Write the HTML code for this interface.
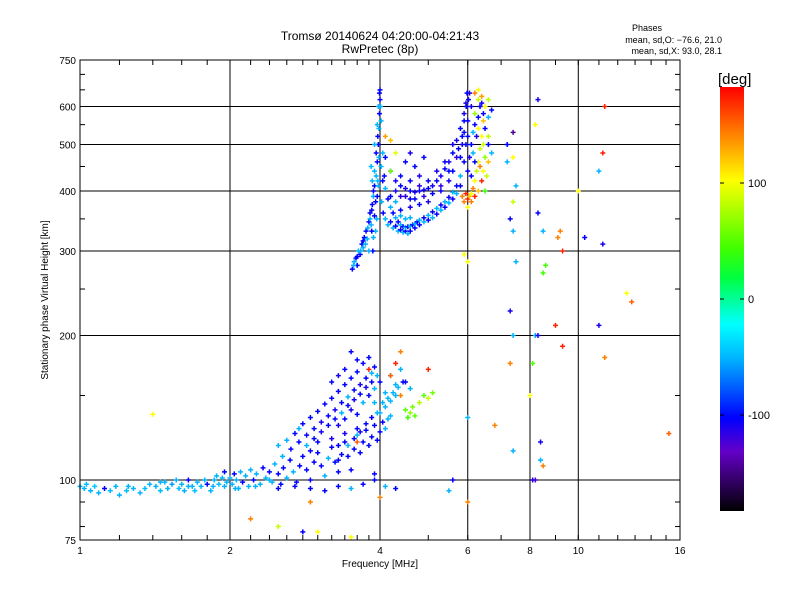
<!DOCTYPE html>
<html><head><meta charset="utf-8"><style>
body{margin:0;background:#fff;}
svg text{font-family:"Liberation Sans",sans-serif;fill:#000;}
</style></head><body>
<svg id="chart" width="800" height="600" viewBox="0 0 800 600">
<defs><linearGradient id="cb" x1="0" y1="1" x2="0" y2="0">
<stop offset="0" stop-color="#000"/><stop offset="0.14" stop-color="#6400c8"/><stop offset="0.22" stop-color="#0000ff"/><stop offset="0.36" stop-color="#00b4ff"/><stop offset="0.44" stop-color="#00ffff"/><stop offset="0.55" stop-color="#00ff40"/><stop offset="0.62" stop-color="#40ff00"/><stop offset="0.78" stop-color="#ffff00"/><stop offset="0.89" stop-color="#ff8000"/><stop offset="1" stop-color="#ff0000"/>
</linearGradient></defs>
<text x="380" y="40" font-size="12" text-anchor="middle">Tromsø 20140624 04:20:00-04:21:43</text>
<text x="380" y="53" font-size="12" text-anchor="middle">RwPretec (8p)</text>
<text x="647" y="31" font-size="9" text-anchor="middle">Phases</text>
<text x="722" y="43" font-size="9" text-anchor="end">mean, sd,O: −76.6, 21.0</text>
<text x="722" y="54" font-size="9" text-anchor="end">mean, sd,X:  93.0, 28.1</text>
<g id="grid"></g>
<g id="marks"></g>
<rect x="80" y="60" width="600" height="480" fill="none" stroke="#000" stroke-width="1"/>
<g id="ticks"></g>
<text x="380" y="567" font-size="10" text-anchor="middle">Frequency [MHz]</text>
<text transform="translate(48,300) rotate(-90)" font-size="10" text-anchor="middle">Stationary phase Virtual Height [km]</text>
<rect x="720" y="87" width="24" height="424" fill="url(#cb)"/>
<text x="718" y="84" font-size="15">[deg]</text>
<g id="cbticks"></g>
</svg>
<script>
const xTickVals=[1,2,4,6,8,10,16];
const xTickLabels=["1","2","4","6","8","10","16"];
const xGrid=[2,4,6,8,10];
const yTickVals=[75,100,200,300,400,500,600,750];
const yTickLabels=["75","100","200","300","400","500","600","750"];
const yGrid=[100,200,300,400,500,600];
const cbTickVals=[100,0,-100];
const cbTickLabels=["100","0","-100"];
const lowBand="1.00 97 -60;1.02 96 -60;1.03 98 -55;1.05 95 -60;1.07 97 -50;1.09 94 -60;1.12 96 -100;1.15 95 -55;1.18 97 -60;1.2 93 -60;1.24 95 -55;1.28 96 -60;1.32 94 -60;1.35 96 -55;1.38 98 -60;1.42 97 -60;1.45 95 -55;1.48 99 -60;1.5 96 -60;1.53 98 -65;1.56 100 -60;1.58 96 -55;1.6 98 -60;1.62 95 -60;1.65 100 -100;1.68 97 -60;1.7 95 -55;1.72 99 -60;1.75 97 -60;1.78 100 -60;1.8 98 -100;1.83 95 -60;1.86 100 -60;1.88 102 -60;1.9 98 -55;1.93 101 -60;1.95 104 -100;1.97 99 -60;2.0 101 -60;2.02 98 -60;2.04 103 -100;2.06 100 -60;2.08 96 -60;2.1 104 -60;2.12 99 -100;2.15 102 -60;2.18 97 -60;2.2 105 -60;2.23 100 -100;2.26 103 -60;2.3 98 -60;2.33 106 -100;2.36 101 -60;2.4 104 -100;2.43 99 -60;2.46 108 -60;2.5 103 -100;2.53 98 -100;2.56 106 -100;2.6 101 -60;2.64 110 -100;2.68 104 -60;2.72 99 -100;2.76 107 -100;2.8 112 -100;2.85 105 -100;2.9 100 -100;2.95 109 -100;3.0 114 -100;3.05 107 -100;3.1 102 -60;3.15 111 -60;3.2 117 -100;3.25 109 -100;3.3 104 -100;3.35 113 -100;3.4 120 -100;3.45 112 -100;3.5 105 -100;3.55 116 -100;3.6 124 -60;3.65 114 -100;3.7 120 -100;3.75 127 -100;3.8 118 -100;3.85 123 -100;3.9 130 -100;3.95 121 -100;4.0 126 -100;4.05 132 -100;4.1 128 -60;4.15 134 -60;4.2 136 -60";
const upperLow="2.5 118 -60;2.6 121 -60;2.7 125 -100;2.75 128 -60;2.8 131 -100;2.85 124 -100;2.9 135 -100;2.95 128 -100;3.0 139 -100;3.05 132 -110;3.1 144 -100;3.15 136 -100;3.2 148 -100;3.25 140 -110;3.3 153 -100;3.35 145 -100;3.4 158 -100;3.45 149 -60;3.5 163 -100;3.55 154 -100;3.6 168 -100;3.65 158 -110;3.7 175 -100;3.75 163 -100;3.8 180 -100;3.85 167 -60;3.9 172 -100;3.5 185 -100;3.6 178 -100;3.3 130 -110;3.4 134 -100;3.5 140 -110;3.6 137 -100;3.7 145 -60;3.8 150 -100;3.9 155 -60;4.0 160 -100;4.1 152 -60;4.2 165 -60;4.3 158 -60;4.4 170 -60;4.5 160 -100;4.6 155 -60;3.2 122 -110;3.3 118 -100;3.4 125 -110;3.6 128 -100;3.0 120 -100;2.9 115 -100;4.5 140 40;4.6 138 60;4.65 142 50;4.7 136 40;4.55 135 30;4.8 145 70;4.9 150 40;5.0 148 80;5.1 152 50;4.4 150 140;4.2 165 150;4.3 175 170;4.4 185 140;3.9 145 -60;4.0 138 -60;4.1 142 -60;4.2 146 -60;4.3 150 -60";
const lowExtra="2.55 112 -60;2.65 116 -100;2.75 120 -100;2.85 118 -60;2.95 122 -100;3.05 126 -110;3.15 130 -100;3.25 134 -100;3.35 138 -60;3.45 143 -100;3.55 147 -110;3.65 151 -100;3.75 156 -110;3.85 160 -100;3.95 165 -60;3.2 160 -100;3.3 165 -110;3.4 170 -100;3.3 110 -100;3.45 118 -60;3.55 122 -100;3.65 126 -110;3.75 131 -100;3.85 135 -100;3.95 138 -60;4.05 145 -60;4.15 148 -60;4.25 152 -60;4.35 156 -60;4.45 160 -100;2.4 100 -60;2.5 96 -100;2.7 97 -100;2.9 96 -100;3.1 95 -100;3.3 97 -100;3.5 96 -60;3.7 98 -100;3.9 100 -100;4.1 97 -60;4.3 96 -100;1.25 97 -60;1.45 99 -60;1.65 97 -60;1.85 97 -60;1.95 97 -60;2.05 96 -60;2.25 97 -60";
const fCusp="3.52 275 -100;3.55 285 -60;3.58 290 -100;3.6 280 -100;3.62 300 -60;3.65 295 -100;3.68 310 -100;3.7 305 -60;3.72 320 -100;3.75 330 -100;3.77 318 -60;3.8 345 -100;3.82 360 -100;3.84 340 -60;3.86 375 -100;3.88 390 -60;3.9 410 -100;3.92 380 -100;3.93 430 -60;3.95 460 -100;3.96 420 -60;3.97 500 -100;3.98 540 -60;3.99 580 -100;4.0 620 -100;4.0 650 -100;4.01 600 -60;3.98 470 -60;3.96 520 -100;3.94 350 -60;3.92 330 -60;3.9 355 -100;3.88 320 -60";
const fExtra="3.54 280 -60;3.6 292 -100;3.66 300 -60;3.7 315 -100;3.74 310 -60;3.78 335 -60;3.82 350 -60;3.85 365 -100;3.88 400 -100;3.9 440 -60;3.93 480 -100;3.95 550 -60;3.97 600 -60;3.99 640 -100;3.86 420 -60;3.84 450 -60;3.9 500 -60;3.87 300 -100;3.85 330 -100;3.8 300 -60;3.95 390 -100;3.97 410 -60;4.02 450 -60;4.05 420 -100;4.03 380 -60;4.06 360 -100;4.1 350 -60;4.15 340 -60;4.2 345 -100;4.25 335 -60;4.3 338 -100;4.35 330 -60;4.4 332 -100;4.45 328 -60;4.5 330 -100;4.55 326 -60;4.6 330 -100;4.7 335 -100;4.8 340 -100;4.9 345 -60;5.0 348 -100;5.1 352 -60;5.2 358 -100;5.3 365 -60;5.4 370 -100;5.5 378 -60;5.6 385 -100;5.7 395 -60;5.8 410 -100;4.3 400 -110;4.5 390 -120;4.7 385 -100;4.9 390 -120;5.1 395 -100;5.3 410 -120;5.5 440 -100;5.7 470 -120;5.75 490 -100;5.85 500 -110;5.9 530 -100;5.95 610 -110;6.0 520 -100;4.6 420 -100;4.8 410 -120;5.0 420 -100;5.2 440 -110;5.4 460 -100;5.6 500 -110;4.4 390 -120;4.6 385 -100";
const oTrace="4.02 560 -60;4.05 480 -60;4.08 430 -100;4.1 405 -60;4.15 385 -100;4.2 370 -60;4.25 360 -100;4.3 352 -60;4.35 345 -100;4.4 340 -60;4.45 337 -100;4.5 336 -60;4.55 337 -100;4.6 338 -60;4.65 340 -100;4.7 342 -60;4.75 345 -100;4.8 348 -60;4.9 352 -100;5.0 356 -60;5.1 362 -100;5.2 368 -60;5.3 374 -100;5.4 380 -60;5.5 388 -100;5.6 398 -60;5.7 410 -100;5.8 430 -60;5.9 460 -100;5.95 500 -100;6.0 560 -100;6.02 620 -100;5.98 640 -100;5.96 600 -100;4.1 470 -100;4.2 440 -100;4.3 420 -110;4.4 410 -100;4.5 405 -110;4.6 400 -100;4.7 398 -110;4.8 400 -100;4.9 402 -110;5.0 405 -100;5.1 410 -110;5.2 420 -100;5.3 430 -110;5.4 445 -100;5.5 460 -110;5.6 480 -100;5.7 510 -110;5.8 540 -100;5.9 580 -110;5.8 470 -100;5.6 440 -100;5.5 420 -110;5.3 400 -100;5.0 380 -110;4.8 375 -100;4.6 370 -110;4.4 365 -100;4.2 390 -100;4.3 380 -60;4.5 350 -60;4.4 355 -60;4.6 352 -60;4.1 520 130;4.2 510 120;4.3 480 90;4.2 440 50;4.4 430 -100;4.5 460 -100;4.6 480 -110;4.7 450 -100;4.8 430 -110;4.9 470 -100";
const xTrace="5.9 380 140;6.0 385 170;6.05 390 120;6.1 395 100;6.15 405 140;6.2 420 100;6.25 440 80;6.3 460 100;6.35 490 80;6.4 520 100;6.45 560 120;6.5 600 100;6.4 630 130;6.3 620 80;6.2 580 60;6.3 540 100;6.35 450 140;6.4 420 170;6.45 440 100;6.5 470 60;6.45 500 80;6.3 400 120;6.2 390 170;6.1 380 140;6.0 370 100;5.95 395 170;5.85 390 140;6.5 400 30;6.55 430 80;6.6 520 80;6.6 460 120;6.6 620 80;6.2 640 140;6.3 650 100;6.0 440 -100;6.05 470 -110;6.1 500 -100;6.15 530 -60;6.2 550 -100;6.25 520 -110;6.3 570 -100;6.35 600 -100;6.4 610 -110;6.45 580 -100;6.1 600 -110;6.05 640 -110;6.15 480 -60;6.2 460 -100;6.1 430 -100;6.5 540 -100;6.6 570 -60;6.7 590 -100;6.6 500 -100;6.7 480 -60;5.9 560 -100;5.85 520 -100";
const scattered="1.4 137 100;2.2 83 140;2.5 80 80;2.8 78 -100;2.9 90 140;3.0 78 100;3.6 120 150;3.8 170 170;3.9 103 -100;4.0 92 140;3.5 76 100;7.2 500 -100;7.4 530 -150;7.2 460 -60;7.4 470 100;7.5 410 -60;7.4 380 80;7.3 350 -100;7.4 330 -60;7.5 285 -60;8.3 620 -110;8.2 550 100;8.3 360 -100;8.5 330 -60;8.6 280 30;8.5 270 30;9.2 330 140;9.3 300 170;9.1 320 140;10.0 400 100;10.3 320 -100;11.3 600 170;11.2 480 170;11.0 440 -60;11.2 310 -110;11.0 210 -110;11.3 180 140;12.5 245 100;12.8 235 150;15.2 125 150;7.3 225 -110;7.4 200 -60;7.3 175 140;8.2 200 -60;8.3 200 -110;8.1 175 40;8.0 150 100;7.4 115 -60;8.4 120 -110;8.4 110 -60;8.5 107 140;8.1 100 -110;9.3 190 170;6.0 90 140;6.0 285 100;5.9 295 100;6.8 130 140;6.0 135 -60;5.0 170 170;5.6 100 -100;9.0 210 170;5.5 95 -60;8.2 100 -130";
const NS="http://www.w3.org/2000/svg";
const X0=80,X1=680,Y0=540,Y1=60;
function xs(f){return X0+(X1-X0)*Math.log2(f)/4;}
function ys(h){return Y0-(Y0-Y1)*Math.log10(h/75)/1;}
const cmap=[[-180,0,0,0],[-140,100,0,200],[-100,0,0,255],[-60,0,180,255],[-25,0,255,255],[0,0,255,100],[30,60,255,0],[100,255,255,0],[140,255,128,0],[180,255,0,0]];
function col(p){for(let i=1;i<cmap.length;i++){if(p<=cmap[i][0]){const a=cmap[i-1],b=cmap[i],t=(p-a[0])/(b[0]-a[0]);return `rgb(${Math.round(a[1]+t*(b[1]-a[1]))},${Math.round(a[2]+t*(b[2]-a[2]))},${Math.round(a[3]+t*(b[3]-a[3]))})`;}}return "rgb(255,0,0)";}
function mk(tag,at,parent){const e=document.createElementNS(NS,tag);for(const k in at)e.setAttribute(k,at[k]);parent.appendChild(e);return e;}
const grid=document.getElementById('grid'),ticks=document.getElementById('ticks'),marks=document.getElementById('marks'),cbt=document.getElementById('cbticks');
xGrid.forEach(v=>{const l=mk('line',{x1:xs(v),x2:xs(v),y1:Y1,y2:Y0,stroke:'#000','stroke-width':1},grid);

});
yGrid.forEach(v=>{const l=mk('line',{x1:X0,x2:X1,y1:ys(v),y2:ys(v),stroke:'#000','stroke-width':1},grid);

});
xTickVals.forEach((v,i)=>{const t=mk('text',{x:xs(v),y:Y0+14,'font-size':10,'text-anchor':'middle'},ticks);t.textContent=xTickLabels[i];

});
yTickVals.forEach((v,i)=>{const t=mk('text',{x:X0-4,y:ys(v)+4,'font-size':10,'text-anchor':'end'},ticks);t.textContent=yTickLabels[i];

});
for(let f=1.2;f<4;f+=0.2){if(Math.abs(f-2)<0.01)continue;[[Y0,Y0-5],[Y1,Y1+5]].forEach(s=>mk('line',{x1:xs(f),x2:xs(f),y1:s[0],y2:s[1],stroke:'#000'},ticks));}
for(let f=5;f<16;f+=1){[[Y0,Y0-5],[Y1,Y1+5]].forEach(s=>mk('line',{x1:xs(f),x2:xs(f),y1:s[0],y2:s[1],stroke:'#000'},ticks));}
[80,90,150,250,350,450,550,650,700].forEach(h=>{mk('line',{x1:X0,x2:X0+5,y1:ys(h),y2:ys(h),stroke:'#000'},ticks);mk('line',{x1:X1,x2:X1-5,y1:ys(h),y2:ys(h),stroke:'#000'},ticks);});
function cby(p){return 299-p*1.16;}
cbTickVals.forEach((v,i)=>{mk('line',{x1:744,x2:740,y1:cby(v),y2:cby(v),stroke:'#000'},cbt);mk('line',{x1:720,x2:724,y1:cby(v),y2:cby(v),stroke:'#000'},cbt);const t=mk('text',{x:748,y:cby(v)+4,'font-size':11},cbt);t.textContent=cbTickLabels[i];

});
[lowBand,upperLow,lowExtra,fCusp,fExtra,oTrace,xTrace,scattered].forEach(s=>{s.split(';').forEach(r=>{const [f,h,p]=r.trim().split(/\s+/).map(Number);const x=xs(f),y=ys(h);
const m=mk('path',{d:`M${x-2.5} ${y}h5M${x} ${y-2.5}v5`,stroke:col(p),'stroke-width':1.5,fill:'none'},marks);

});});
</script>
</body></html>
